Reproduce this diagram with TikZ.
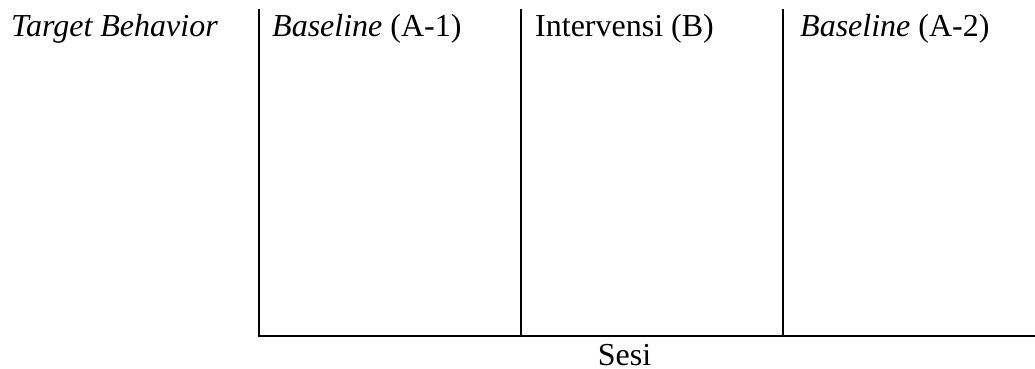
\documentclass[tikz,border=0pt]{standalone}
\usepackage{fontspec}
\setmainfont{Liberation Serif}
\begin{document}
\begin{tikzpicture}[x=1pt,y=-1pt,
  lbl/.style={anchor=base west,inner sep=0pt,font=\fontsize{32}{38}\selectfont},
  axis/.style={line width=2pt}]
\useasboundingbox (0,0) rectangle (1035,369);
\coordinate (ytop) at (259,9);
\coordinate (origin) at (259,336);
\coordinate (xend) at (1035,336);
\coordinate (d1top) at (521,9);
\coordinate (d1bot) at (521,336);
\coordinate (d2top) at (783,9);
\coordinate (d2bot) at (783,336);
\draw[axis] (ytop) -- (origin) -- (xend);
\draw[axis] (d1top) -- (d1bot);
\draw[axis] (d2top) -- (d2bot);
\node[lbl] (tb) at (11,37) {\itshape Target Behavior};
\node[lbl] (a1) at (272,37) {\textit{Baseline} (A-1)};
\node[lbl] (b) at (535,37) {Intervensi (B)};
\node[lbl] (a2) at (800,37) {\textit{Baseline} (A-2)};
\node[lbl,anchor=base] (sesi) at (624.5,365) {Sesi};
\end{tikzpicture}
\end{document}
